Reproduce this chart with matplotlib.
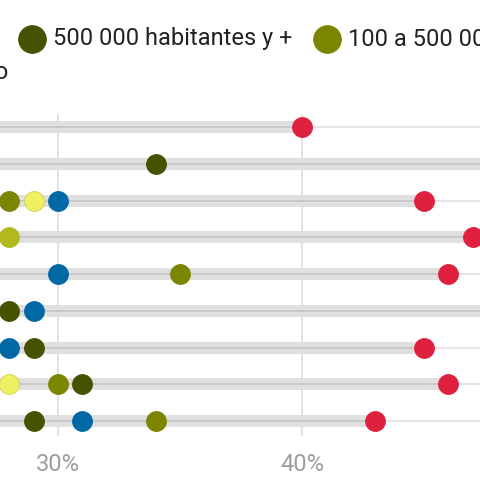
import numpy as np
import matplotlib
matplotlib.use('Agg')
import matplotlib.pyplot as plt

plt.rcParams['font.family'] = ['Roboto', 'DejaVu Sans']

# categories (legend) and their colours
categories = ['500 000 habitantes y +', '100 a 500 000 habitantes',
              '20 000 a 100 000 habitantes', 'Menos de 20 000 habitantes',
              'Nacional', 'Máximo']
colors = ['#465200', '#7b8500', '#b3ba1e', '#eef062', '#0068a5', '#e0203f']
edges = ['#465200', '#7b8500', '#b3ba1e', '#cfd24a', '#0068a5', '#e0203f']

# values per row (%), one list per category; rows are top to bottom
v_500k = [25, 34, 26, 24, 27, 28, 29, 31, 29]
v_100k = [24, 26, 28, 25, 35, 26, 27, 30, 34]
v_20k = [23, 25, 27, 28, 26, 25, 26, 27, 26]
v_menos = [22, 24, 29, 23, 25, 24, 25, 28, 25]
v_nac = [26, 27, 30, 26, 30, 29, 28, 27, 31]
v_max = [40, 49, 45, 47, 46, 48, 45, 46, 43]
series = [v_500k, v_100k, v_20k, v_menos, v_nac, v_max]

xticks = [30, 40]
xticklabels = ['30%', '40%']

W, H = 480, 494
fig = plt.figure(figsize=(W / 100, H / 100), dpi=100)
ax = fig.add_axes([0, (H - 436) / H, 1, (436 - 114) / H])

n_rows = len(v_max)
rows = np.arange(n_rows)
vals = np.array(series)

# vertical grid below everything
for x in xticks:
    ax.axvline(x, color='#e3e3e3', lw=1.44, zorder=0.5)

# range bands and thin full-width row lines
for r in rows:
    lo, hi = vals[:, r].min(), vals[:, r].max()
    ax.plot([lo, hi], [r, r], color='#e0e0e0', lw=8.6, solid_capstyle='butt', zorder=1)
    ax.axhline(r, color='black', alpha=0.1, lw=1.44, zorder=2)

for i, s in enumerate(series):
    ax.scatter(s, rows, s=205, color=colors[i], edgecolors=edges[i],
               linewidths=0.6, zorder=3)

ax.set_xlim(27.62, 47.3)
ax.set_ylim(8.408, -0.354)
ax.set_xticks(xticks)
ax.set_xticklabels(xticklabels, color='#9e9e9e', fontsize=17)
ax.tick_params(axis='x', length=0, pad=12)
ax.set_yticks([])
for sp in ax.spines.values():
    sp.set_visible(False)

# legend, laid out by hand along the top (items past the right edge are skipped)
renderer = fig.canvas.get_renderer()
x_px = 32
y_px = 39
for i in range(len(categories)):
    if x_px > W:
        break
    ax.plot([x_px / W], [1 - y_px / H], marker='o', ms=20, color=colors[i],
            mec=edges[i], mew=0.6, transform=fig.transFigure, clip_on=False)
    t = fig.text((x_px + 21) / W, 1 - y_px / H, categories[i], fontsize=17,
                 color='#222222', va='center', ha='left')
    bb = t.get_window_extent(renderer)
    x_px = bb.x1 + 35

# wrapped second legend line, mostly outside the crop
fig.text(8 / W, 1 - 72 / H, 'Promedio', fontsize=17, color='#222222',
         va='center', ha='right')

fig.savefig('out.png', dpi=100)
